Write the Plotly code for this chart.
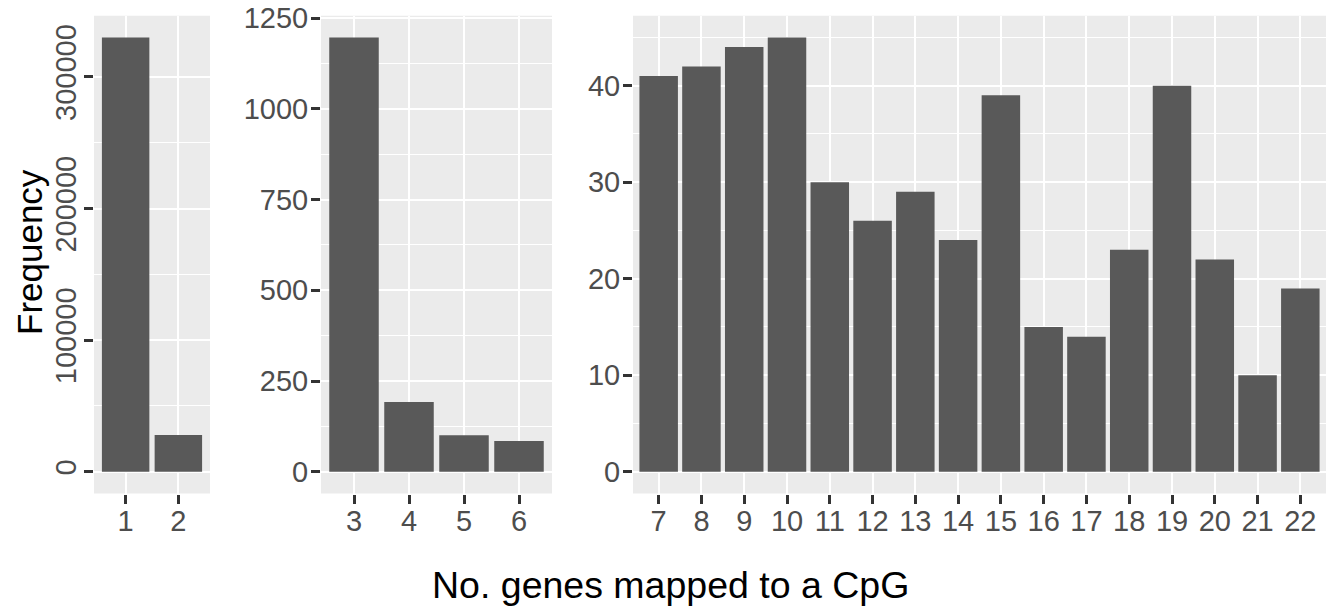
import plotly.graph_objects as go

# ---- data ----
genes_p1 = [1, 2]
freq_p1 = [330000, 28000]
genes_p2 = [3, 4, 5, 6]
freq_p2 = [1197, 192, 101, 85]
genes_p3 = [7, 8, 9, 10, 11, 12, 13, 14, 15, 16, 17, 18, 19, 20, 21, 22]
freq_p3 = [41, 42, 44, 45, 30, 26, 29, 24, 39, 15, 14, 23, 40, 22, 10, 19]

W, H = 1340, 609
BAR = "#595959"
PANEL = "#EBEBEB"
FONT = "Liberation Sans, Arial, Helvetica, sans-serif"
TICKFONT = dict(family=FONT, size=29, color="#4D4D4D")

fig = go.Figure()
panels = [
    (genes_p1, freq_p1, "x", "y", (94, 210), 100000, -90, -4),
    (genes_p2, freq_p2, "x2", "y2", (321, 552), 250, 0, -3),
    (genes_p3, freq_p3, "x3", "y3", (633, 1326), 10, 0, -3),
]
ytop, ybot = 15.7, 493.5
for i, (gx, fy, xa, ya, (x0, x1), dt, ang, ystand) in enumerate(panels):
    fig.add_trace(go.Bar(x=gx, y=fy, xaxis=xa, yaxis=ya, width=0.9,
                         marker=dict(color=BAR, line=dict(width=0)),
                         showlegend=False))
    m = max(fy)
    sfx = "" if i == 0 else str(i + 1)
    fig.layout["xaxis" + sfx] = dict(
        domain=[x0 / W, x1 / W], anchor=ya, automargin=False,
        range=[min(gx) - 0.6, max(gx) + 0.6],
        tickmode="array", tickvals=gx, ticktext=[str(v) for v in gx],
        showgrid=True, gridcolor="white", gridwidth=2.2,
        zeroline=False, showline=False,
        ticks="outside", ticklen=9, tickwidth=2.5, tickcolor="#333333",
        tickfont=TICKFONT, fixedrange=True, ticklabelstandoff=-7,
    )
    fig.layout["yaxis" + sfx] = dict(
        domain=[(H - ybot) / H, (H - ytop) / H], anchor=xa, automargin=False,
        range=[-0.05 * m, 1.05 * m],
        tick0=0, dtick=dt, tickformat="d", exponentformat="none",
        minor=dict(dtick=dt / 2, tick0=0, showgrid=True, gridcolor="white",
                   gridwidth=1.1, ticks=""),
        showgrid=True, gridcolor="white", gridwidth=2.2,
        zeroline=False, showline=False,
        ticks="outside", ticklen=9, tickwidth=2.5, tickcolor="#333333",
        tickfont=TICKFONT, tickangle=ang, fixedrange=True,
        ticklabelstandoff=ystand,
    )
    fig.add_shape(type="rect", xref="paper", yref="paper",
                  x0=x0 / W, x1=x1 / W, y0=(H - ybot) / H, y1=(H - ytop) / H,
                  fillcolor=PANEL, line=dict(width=0), layer="below")

fig.add_annotation(text="Frequency", xref="paper", yref="paper",
                   x=29 / W, y=(H - 252) / H, textangle=-90,
                   showarrow=False, xanchor="center", yanchor="middle",
                   font=dict(family=FONT, size=35, color="black"))
fig.add_annotation(text="No. genes mapped to a CpG", xref="paper", yref="paper",
                   x=670 / W, y=(H - 585) / H,
                   showarrow=False, xanchor="center", yanchor="middle",
                   font=dict(family=FONT, size=37.5, color="black"))

fig.update_layout(width=W, height=H, margin=dict(l=0, r=0, t=0, b=0),
                  paper_bgcolor="white", plot_bgcolor="rgba(0,0,0,0)",
                  bargap=0.1, font=dict(family=FONT), template="none")
fig.write_html("out.html")
